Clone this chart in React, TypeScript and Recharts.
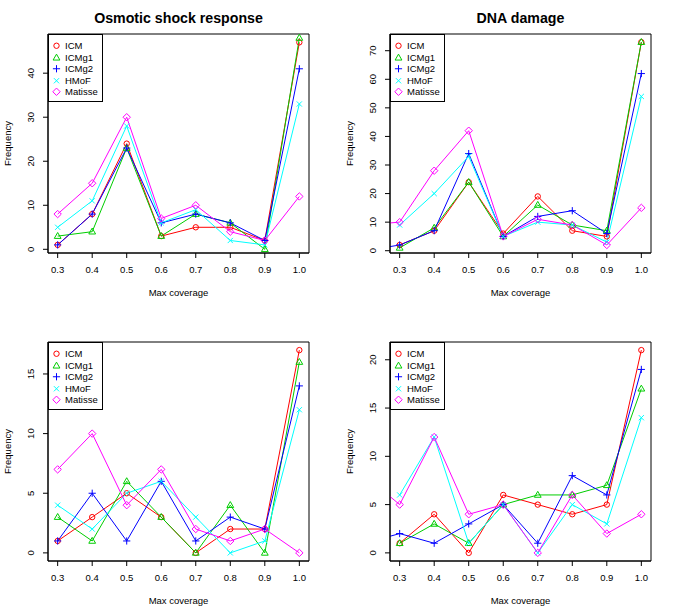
import React from 'react';
import { LineChart, Line, XAxis, YAxis, ReferenceArea } from 'recharts';

// x positions (0.2 sits outside the plotted range, only its clipped segment shows)
const coverage = [0.2, 0.3, 0.4, 0.5, 0.6, 0.7, 0.8, 0.9, 1.0];
const coverageTicks = [0.3, 0.4, 0.5, 0.6, 0.7, 0.8, 0.9, 1.0];

// Osmotic shock response
const osmoIcm = [null, 1, 8, 24, 3, 5, 5, 2, 47];
const osmoIcmg1 = [null, 3, 4, 23, 3, 8, 6, 0, 48];
const osmoIcmg2 = [null, 1, 8, 23, 6, 8, 6, 2, 41];
const osmoHmof = [null, 5, 11, 28, 6, 9, 2, 1, 33];
const osmoMatisse = [null, 8, 15, 30, 7, 10, 4, 2, 12];

// DNA damage
const dnaIcm = [null, 2, 7, 24, 6, 19, 7, 5, 73];
const dnaIcmg1 = [null, 1, 8, 24, 5, 16, 9, 7, 73];
const dnaIcmg2 = [0, 2, 7, 34, 5, 12, 14, 6, 62];
const dnaHmof = [null, 9, 20, 33, 5, 10, 9, 3, 54];
const dnaMatisse = [9, 10, 28, 42, 5, 11, 9, 2, 15];

// bottom left
const lowIcm = [null, 1, 3, 5, 3, 0, 2, 2, 17];
const lowIcmg1 = [null, 3, 1, 6, 3, 0, 4, 0, 16];
const lowIcmg2 = [null, 1, 5, 1, 6, 1, 3, 2, 14];
const lowHmof = [null, 4, 2, 5, 6, 3, 0, 1, 12];
const lowMatisse = [null, 7, 10, 4, 7, 2, 1, 2, 0];

// bottom right
const lowDnaIcm = [null, 1, 4, 0, 6, 5, 4, 5, 21];
const lowDnaIcmg1 = [null, 1, 3, 1, 5, 6, 6, 7, 17];
const lowDnaIcmg2 = [1, 2, 1, 3, 5, 1, 8, 6, 19];
const lowDnaHmof = [null, 6, 12, 1, 5, 0, 5, 3, 14];
const lowDnaMatisse = [8, 5, 12, 4, 5, 0, 6, 2, 4];

const seriesNames = ['ICM', 'ICMg1', 'ICMg2', 'HMoF', 'Matisse'];
const seriesColors = ['#FF0000', '#00CD00', '#0000FF', '#00FFFF', '#FF00FF'];
const seriesShapes = ['circle', 'triangle', 'plus', 'cross', 'diamond'];

const FONT = '"Liberation Sans", Arial, Helvetica, sans-serif';
const W = 342;
const H = 308;

function Marker({ shape, cx, cy, color }: { shape: string; cx: number; cy: number; color: string }) {
  const common = { fill: 'none', stroke: color, strokeWidth: 1 };
  if (shape === 'circle') return <circle cx={cx} cy={cy} r={2.7} {...common} />;
  if (shape === 'triangle')
    return <polygon points={`${cx},${cy - 3.6} ${cx - 3.4},${cy + 2.3} ${cx + 3.4},${cy + 2.3}`} {...common} />;
  if (shape === 'plus')
    return <path d={`M${cx - 3.6},${cy}H${cx + 3.6}M${cx},${cy - 3.6}V${cy + 3.6}`} {...common} />;
  if (shape === 'cross')
    return <path d={`M${cx - 2.6},${cy - 2.6}L${cx + 2.6},${cy + 2.6}M${cx - 2.6},${cy + 2.6}L${cx + 2.6},${cy - 2.6}`} {...common} />;
  return <polygon points={`${cx},${cy - 3.7} ${cx + 3.7},${cy} ${cx},${cy + 3.7} ${cx - 3.7},${cy}`} {...common} />;
}

const YTick = (props: any) => {
  const { x, y, payload } = props;
  return (
    <text x={x} y={y} transform={`rotate(-90 ${x} ${y})`} textAnchor="middle" fontSize={9.5} fill="#000" fontFamily={FONT}>
      {payload.value}
    </text>
  );
};

interface PanelProps {
  title?: string;
  values: (number | null)[][];
  yTicks: number[];
  yDomain: [number, number];
}

const Panel: React.FC<PanelProps> = ({ title, values, yTicks, yDomain }) => {
  const data = coverage.map((c, i) => {
    const row: any = { x: c };
    seriesNames.forEach((n, s) => (row[n] = values[s][i]));
    return row;
  });
  const [yMin, yMax] = yDomain;
  const xMin = 0.3 - 0.7 * 0.04;
  const xMax = 1.0 + 0.7 * 0.04;

  return (
    <div style={{ position: 'relative', width: W, height: H }}>
      <LineChart width={W} height={H} data={data} margin={{ top: 34, right: 33, bottom: 0, left: 0 }}>
        <XAxis
          dataKey="x"
          type="number"
          domain={[xMin, xMax]}
          ticks={coverageTicks}
          allowDataOverflow
          tickFormatter={(v: number) => v.toFixed(1)}
          height={55}
          tickSize={5}
          tickMargin={8}
          stroke="#000"
          tick={{ fontSize: 9.5, fill: '#000', fontFamily: FONT }}
          label={(p: any) => (
            <text
              x={p.viewBox.x + p.viewBox.width / 2}
              y={p.viewBox.y + 43}
              textAnchor="middle"
              fontSize={9.5}
              fill="#000"
              fontFamily={FONT}
            >
              Max coverage
            </text>
          )}
        />
        <YAxis
          type="number"
          domain={[yMin, yMax]}
          ticks={yTicks}
          allowDataOverflow
          width={48}
          tickSize={5}
          tickMargin={9}
          stroke="#000"
          tick={<YTick />}
          label={(p: any) => {
            const cy = p.viewBox.y + p.viewBox.height / 2;
            return (
              <text x={10.5} y={cy} transform={`rotate(-90 10.5 ${cy})`} textAnchor="middle" fontSize={9.5} fill="#000" fontFamily={FONT}>
                Frequency
              </text>
            );
          }}
        />
        <ReferenceArea x1={xMin} x2={xMax} y1={yMin} y2={yMax} fill="none" stroke="#000" strokeWidth={1} ifOverflow="visible" />
        {seriesNames.map((n, s) => (
          <Line
            key={n}
            dataKey={n}
            stroke={seriesColors[s]}
            strokeWidth={1}
            isAnimationActive={false}
            connectNulls={false}
            dot={(p: any) =>
              p.cy == null || p.value == null ? (
                <g key={`${n}-${p.index}`} />
              ) : (
                <Marker key={`${n}-${p.index}`} shape={seriesShapes[s]} cx={p.cx} cy={p.cy} color={seriesColors[s]} />
              )
            }
            activeDot={false}
          />
        ))}
      </LineChart>
      {title && (
        <div
          style={{
            position: 'absolute',
            left: 48,
            width: 261,
            top: 10,
            textAlign: 'center',
            fontSize: 14.2,
            fontWeight: 'bold',
            lineHeight: '16px',
            fontFamily: FONT,
          }}
        >
          {title}
        </div>
      )}
      <div
        style={{
          position: 'absolute',
          left: 48,
          top: 34,
          width: 55,
          height: 68,
          border: '1px solid #000',
          boxSizing: 'border-box',
          background: '#fff',
          paddingTop: 5,
          fontFamily: FONT,
          fontSize: 9.5,
        }}
      >
        {seriesNames.map((n, s) => (
          <div key={n} style={{ height: 11.5, display: 'flex', alignItems: 'center' }}>
            <svg width={16} height={11.5} style={{ display: 'block' }}>
              <Marker shape={seriesShapes[s]} cx={7.5} cy={5.75} color={seriesColors[s]} />
            </svg>
            <span style={{ lineHeight: '11.5px' }}>{n}</span>
          </div>
        ))}
      </div>
    </div>
  );
};

export default function App() {
  return (
    <div style={{ position: 'absolute', left: 0, top: 0, width: 685, height: 616, background: '#fff' }}>
      <div style={{ position: 'absolute', left: 0, top: 0 }}>
        <Panel
          title="Osmotic shock response"
          values={[osmoIcm, osmoIcmg1, osmoIcmg2, osmoHmof, osmoMatisse]}
          yTicks={[0, 10, 20, 30, 40]}
          yDomain={[-0.84, 48.9]}
        />
      </div>
      <div style={{ position: 'absolute', left: 342, top: 0 }}>
        <Panel
          title="DNA damage"
          values={[dnaIcm, dnaIcmg1, dnaIcmg2, dnaHmof, dnaMatisse]}
          yTicks={[0, 10, 20, 30, 40, 50, 60, 70]}
          yDomain={[-0.8, 75.85]}
        />
      </div>
      <div style={{ position: 'absolute', left: 0, top: 308 }}>
        <Panel
          values={[lowIcm, lowIcmg1, lowIcmg2, lowHmof, lowMatisse]}
          yTicks={[0, 5, 10, 15]}
          yDomain={[-0.68, 17.68]}
        />
      </div>
      <div style={{ position: 'absolute', left: 342, top: 308 }}>
        <Panel
          values={[lowDnaIcm, lowDnaIcmg1, lowDnaIcmg2, lowDnaHmof, lowDnaMatisse]}
          yTicks={[0, 5, 10, 15, 20]}
          yDomain={[-0.84, 21.84]}
        />
      </div>
    </div>
  );
}
